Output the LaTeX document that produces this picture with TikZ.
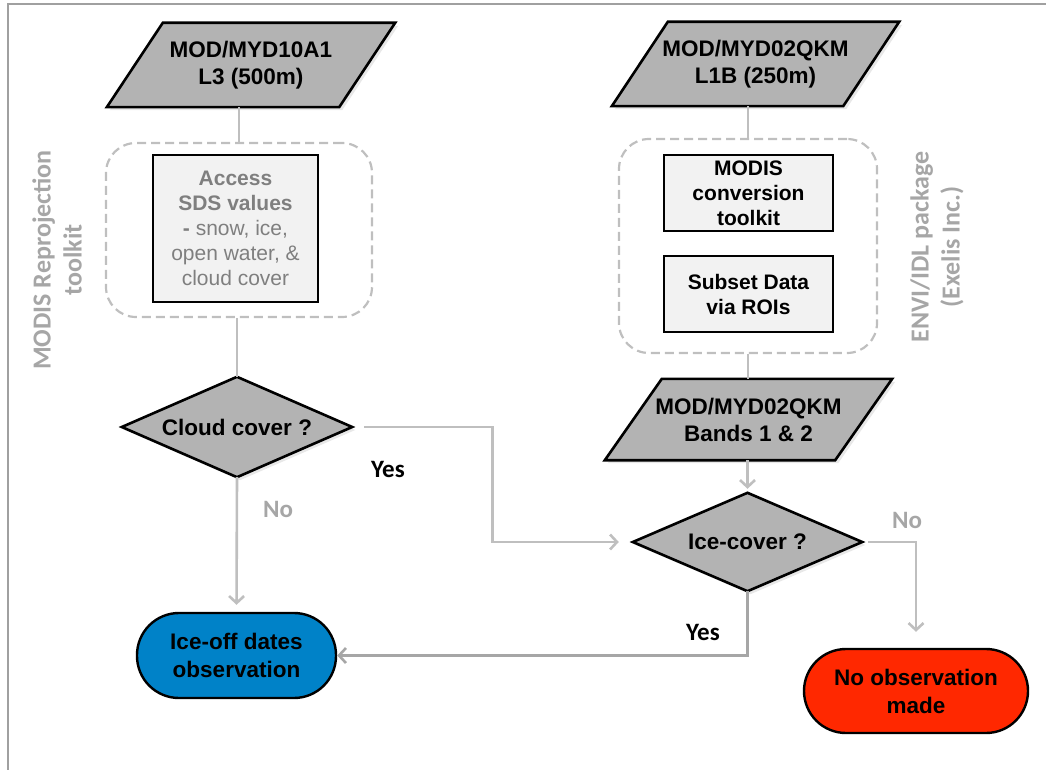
\documentclass[tikz,border=0pt]{standalone}
\usepackage{fontspec}
\setmainfont{Liberation Sans}
\newfontfamily\carl{Carlito}
\usetikzlibrary{calc,arrows.meta,shadows,backgrounds}
\definecolor{shapegray}{HTML}{B3B3B3}
\definecolor{boxfill}{HTML}{F2F2F2}
\definecolor{linegray}{HTML}{BFBFBF}
\definecolor{linedark}{HTML}{A6A6A6}
\definecolor{labelgray}{HTML}{A6A6A6}
\definecolor{textgray}{HTML}{7F7F7F}
\definecolor{blueterm}{HTML}{0082C8}
\definecolor{redterm}{HTML}{FF2800}
\definecolor{framegray}{HTML}{A0A0A0}
\newcommand\parashape[2]{\draw[outline] ($(#1.north west)+(#2,0)$) -- (#1.north east) -- ($(#1.south east)+(-#2,0)$) -- (#1.south west) -- cycle;}
\newcommand\diashape[1]{\draw[outline] (#1.north) -- (#1.east) -- (#1.south) -- (#1.west) -- cycle;}
\begin{document}
\begin{tikzpicture}[x=1pt,y=-1pt,
  holder/.style={inner sep=0pt, align=center, font=\fontsize{22.5}{27}\selectfont\bfseries},
  outline/.style={draw=black, line width=2.6pt, fill=shapegray, drop shadow={shadow xshift=3pt,shadow yshift=-3pt,opacity=0.18}},
  group/.style={draw=linegray, dash pattern=on 9pt off 5pt, line width=2.2pt, rounded corners=30pt, inner sep=0pt},
  procbox/.style={draw=black, line width=2.4pt, fill=boxfill, inner sep=0pt, align=center, font=\fontsize{21}{25}\selectfont\bfseries},
  terminal/.style={draw=black, line width=2.4pt, rounded corners=42pt, inner sep=0pt, align=center, font=\fontsize{22.5}{28}\selectfont\bfseries},
  conn/.style={draw=linegray, line width=2.6pt},
  arr/.style={conn, -{Straight Barb[length=7pt,width=15pt]}},
  sidelabel/.style={font=\carl\fontsize{26}{31}\selectfont\bfseries, text=labelgray, rotate=90, align=center, inner sep=0pt},
  yeslabel/.style={font=\carl\fontsize{25}{30}\selectfont\bfseries, inner sep=0pt},
]
\useasboundingbox (0,0) rectangle (1046,770);
\draw[framegray, line width=1.6pt] (8,770) -- (8,4) -- (1046,4);

% groups
\node[group, minimum width=266pt, minimum height=174pt] (g1) at (239,230) {};
\node[group, minimum width=258pt, minimum height=214pt] (g2) at (748,246) {};

% data shapes
\node[holder, minimum width=288pt, minimum height=84pt] (p1) at (251,65) {MOD/MYD10A1\\L3 (500m)};
\node[holder, minimum width=287pt, minimum height=84pt] (p2) at (755.5,64) {MOD/MYD02QKM\\L1B (250m)};
\node[holder, minimum width=287pt, minimum height=81pt] (p3) at (748.5,419.5) {MOD/MYD02QKM\\Bands 1 \& 2};

% decisions
\node[holder, minimum width=230pt, minimum height=100pt] (cloud) at (237,427) {Cloud cover ?};
\node[holder, minimum width=229pt, minimum height=98pt] (ice) at (747.5,542) {Ice-cover ?};

\begin{scope}[on background layer]
\parashape{p1}{56}
\parashape{p2}{56}
\parashape{p3}{57}
\diashape{cloud}
\diashape{ice}
\end{scope}

% process boxes
\node[procbox, minimum width=165pt, minimum height=147pt, text=textgray, font=\fontsize{21}{25}\selectfont\mdseries] (acc) at (235.5,228.5)
  {\textbf{Access}\\\textbf{SDS values}\\\textbf{-} snow, ice,\\open water, \&\\cloud cover};
\node[procbox, minimum width=169pt, minimum height=76pt] (conv) at (748.5,193) {MODIS\\conversion\\toolkit};
\node[procbox, minimum width=169pt, minimum height=76pt] (sub) at (748.5,294) {Subset Data\\via ROIs};

% terminals
\node[terminal, fill=blueterm, minimum width=199pt, minimum height=85pt] (iceoff) at (236.5,655.5) {Ice-off dates\\observation};
\node[terminal, fill=redterm, minimum width=224pt, minimum height=84pt] (noobs) at (916,691) {No observation\\made};

% side labels
\node[sidelabel] (lab1) at (57,260) {MODIS Reprojection\\toolkit};
\node[sidelabel] (lab2) at (937,247) {ENVI/IDL package\\(Exelis Inc.)};

% branch labels
\node[yeslabel, text=labelgray] (no1) at (278,509) {No};
\node[yeslabel] (yes1) at (388,469) {Yes};
\node[yeslabel, text=labelgray] (no2) at (907,520) {No};
\node[yeslabel] (yes2) at (703,632) {Yes};

% connectors
\draw[conn] (p1.south -| g1.north) -- (g1.north);
\draw[conn] (cloud.north |- g1.south) -- (cloud.north);
\draw[arr, shorten >=7pt] (cloud.south) -- (iceoff.north);
\coordinate (mid) at ($(cloud.east)!0.5!(ice.west)$);
\draw[arr, shorten <=12pt, shorten >=14pt] (cloud.east) -| (mid) |- (ice.west);
\draw[conn] (g2.north |- p2.south) -- (g2.north);
\draw[conn] (g2.south) -- (g2.south |- p3.north);
\draw[arr, shorten >=4pt] (p3.south -| ice.north) -- (ice.north);
\draw[arr, shorten <=6pt, shorten >=16pt] (ice.east) -| (noobs.north);
\draw[arr, draw=linedark] (ice.south) |- (iceoff.east);
\end{tikzpicture}
\end{document}
